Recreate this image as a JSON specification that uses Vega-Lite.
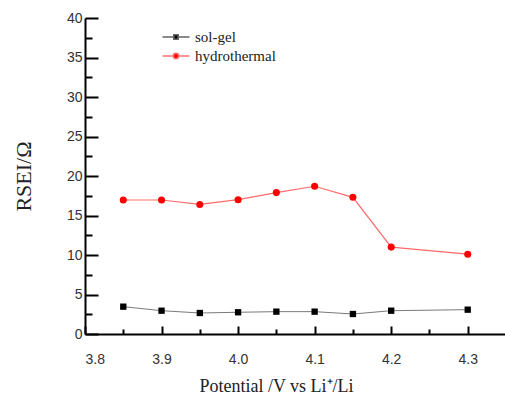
{
  "$schema": "https://vega.github.io/schema/vega-lite/v6.json",
  "width": 421,
  "height": 316,
  "autosize": {"type": "none"},
  "padding": {"left": 85, "top": 18, "right": 0, "bottom": 60},
  "background": "white",
  "config": {
    "view": {"stroke": null},
    "axis": {
      "grid": false,
      "domainColor": "#000",
      "domainWidth": 2,
      "tickColor": "#000",
      "tickWidth": 2,
      "labelFont": "Liberation Sans",
      "labelFontSize": 14,
      "labelColor": "#333",
      "titleFont": "Liberation Serif",
      "titleFontWeight": "normal",
      "titleColor": "#222"
    },
    "legend": {
      "labelFont": "Liberation Serif",
      "labelFontSize": 15,
      "labelColor": "#222"
    }
  },
  "data": {
    "values": [
      {"x": 3.85, "y": 3.46, "series": "sol-gel"},
      {"x": 3.9, "y": 2.95, "series": "sol-gel"},
      {"x": 3.95, "y": 2.66, "series": "sol-gel"},
      {"x": 4.0, "y": 2.75, "series": "sol-gel"},
      {"x": 4.05, "y": 2.83, "series": "sol-gel"},
      {"x": 4.1, "y": 2.83, "series": "sol-gel"},
      {"x": 4.15, "y": 2.53, "series": "sol-gel"},
      {"x": 4.2, "y": 2.95, "series": "sol-gel"},
      {"x": 4.3, "y": 3.08, "series": "sol-gel"},
      {"x": 3.85, "y": 16.96, "series": "hydrothermal"},
      {"x": 3.9, "y": 16.96, "series": "hydrothermal"},
      {"x": 3.95, "y": 16.4, "series": "hydrothermal"},
      {"x": 4.0, "y": 17.0, "series": "hydrothermal"},
      {"x": 4.05, "y": 17.9, "series": "hydrothermal"},
      {"x": 4.1, "y": 18.7, "series": "hydrothermal"},
      {"x": 4.15, "y": 17.3, "series": "hydrothermal"},
      {"x": 4.2, "y": 11.0, "series": "hydrothermal"},
      {"x": 4.3, "y": 10.1, "series": "hydrothermal"}
    ]
  },
  "encoding": {
    "x": {
      "field": "x",
      "type": "quantitative",
      "scale": {"domain": [3.8, 4.35], "nice": false, "zero": false},
      "axis": {
        "values": [3.8, 3.85, 3.9, 3.95, 4.0, 4.05, 4.1, 4.15, 4.2, 4.25, 4.3, 4.35],
        "labelExpr": "abs(datum.value*10 - round(datum.value*10)) < 0.01 && datum.value < 4.32 ? format(datum.value, '.1f') : ''",
        "tickSize": {"condition": {"test": "abs(datum.value*10 - round(datum.value*10)) < 0.01", "value": -8}, "value": -5},
        "labelPadding": 26,
        "title": "Potential /V vs Li⁺/Li",
        "titleFontSize": 18,
        "titlePadding": 11,
        "titleX": 191
      }
    },
    "y": {
      "field": "y",
      "type": "quantitative",
      "scale": {"domain": [0, 40], "nice": false},
      "axis": {
        "values": [0, 2.5, 5, 7.5, 10, 12.5, 15, 17.5, 20, 22.5, 25, 27.5, 30, 32.5, 35, 37.5, 40],
        "labelExpr": "datum.value % 5 === 0 ? datum.value : ''",
        "tickSize": {"condition": {"test": "datum.value % 5 === 0", "value": -13}, "value": -7},
        "labelPadding": 16,
        "title": "RSEI/Ω",
        "titleFontSize": 22,
        "titlePadding": 31
      }
    }
  },
  "layer": [
    {
      "transform": [{"filter": "datum.series === 'sol-gel'"}],
      "mark": {"type": "line", "color": "#7a7a7a", "strokeWidth": 1}
    },
    {
      "transform": [{"filter": "datum.series === 'hydrothermal'"}],
      "mark": {"type": "line", "color": "#ff6a6a", "strokeWidth": 1.2}
    },
    {
      "transform": [{"filter": "datum.series === 'sol-gel'"}],
      "mark": {"type": "point", "shape": "square", "filled": true, "color": "#000", "size": 40, "opacity": 1}
    },
    {
      "transform": [{"filter": "datum.series === 'hydrothermal'"}],
      "mark": {"type": "point", "shape": "circle", "filled": true, "color": "#ff0000", "size": 50, "opacity": 1}
    },
    {
      "transform": [{"filter": "datum.x > 100"}],
      "mark": {"type": "point", "strokeWidth": 1, "opacity": 1},
      "encoding": {
        "shape": {
          "field": "series",
          "type": "nominal",
          "scale": {
            "domain": ["sol-gel", "hydrothermal"],
            "range": [
              "M-1.35,0H-0.3M0.3,0H1.35M-0.22,-0.22H0.22V0.22H-0.22Z",
              "M-1.35,0H-0.3M0.3,0H1.35M-0.27,0A0.27,0.27 0 1,1 0.27,0A0.27,0.27 0 1,1 -0.27,0Z"
            ]
          },
          "legend": {
            "title": null,
            "orient": "none",
            "legendX": 80,
            "legendY": 8,
            "symbolSize": 400,
            "labelOffset": 8,
            "rowPadding": 0,
            "symbolOpacity": 1
          }
        },
        "fill": {
          "field": "series",
          "type": "nominal",
          "scale": {"domain": ["sol-gel", "hydrothermal"], "range": ["#000000", "#ff0000"]}
        },
        "stroke": {
          "field": "series",
          "type": "nominal",
          "scale": {"domain": ["sol-gel", "hydrothermal"], "range": ["#666666", "#ff7070"]}
        }
      }
    }
  ]
}
